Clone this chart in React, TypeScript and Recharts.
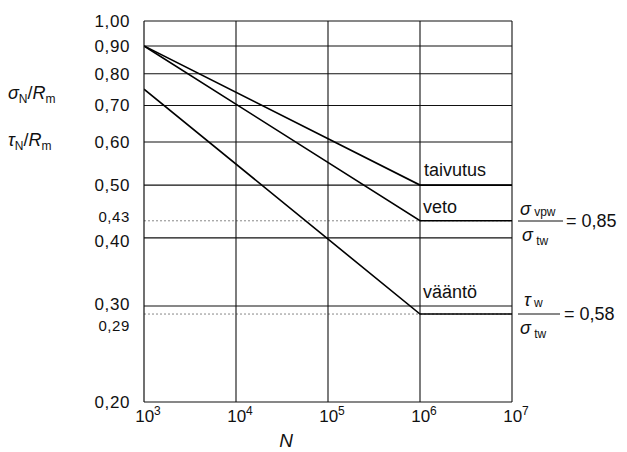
import React from 'react';
import { LineChart, Line, XAxis, YAxis, ReferenceLine } from 'recharts';

// Wöhler-käyrät: N (log) vs. suhteellinen lujuus
const N_VALUES = [1e3, 1e6, 1e7];
const TAIVUTUS = [0.9, 0.5, 0.5];
const VETO = [0.9, 0.43, 0.43];
const VAANTO = [0.75, 0.29, 0.29];

const X_TICKS = [1e3, 1e4, 1e5, 1e6, 1e7];
const Y_TICKS = [0.2, 0.29, 0.3, 0.4, 0.43, 0.5, 0.6, 0.7, 0.8, 0.9, 1.0];
const MAJOR_H = [0.3, 0.4, 0.5, 0.6, 0.7, 0.8, 0.9, 1.0];
const MINOR_H = [0.29, 0.43];
const V_LINES = [1e4, 1e5, 1e6, 1e7];

const chartData = N_VALUES.map((n, i) => ({
  n,
  taivutus: TAIVUTUS[i],
  veto: VETO[i],
  vaanto: VAANTO[i],
}));

const FONT = '"Liberation Sans", Arial, Helvetica, sans-serif';

const YTick = (props: any) => {
  const { x, y, payload } = props;
  const v = payload.value as number;
  const small = v === 0.29 || v === 0.43;
  let dy = 6;
  if (v === 0.29) dy = 17;
  if (v === 0.3) dy = 4;
  if (v === 0.43) dy = 1;
  if (v === 0.4) dy = 9;
  return (
    <text x={x} y={y + dy} textAnchor="end" fontSize={small ? 15 : 17} fill="#111" fontFamily={FONT} letterSpacing={0.6}>
      {v.toFixed(2).replace('.', ',')}
    </text>
  );
};

const XTick = (props: any) => {
  const { x, y, payload } = props;
  const exp = Math.round(Math.log10(payload.value));
  return (
    <text x={x + 4} y={y + 14} textAnchor="middle" fontSize={17} fill="#111" fontFamily={FONT}>
      10
      <tspan fontSize={12} dy={-7}>{exp}</tspan>
    </text>
  );
};

const App: React.FC = () => {
  return (
    <div style={{ position: 'absolute', left: 0, top: 0, width: 627, height: 452, background: '#fff' }}>
      <LineChart width={627} height={452} data={chartData} margin={{ top: 21, right: 115, left: 0, bottom: 0 }}>
        <XAxis
          dataKey="n"
          type="number"
          scale="log"
          domain={[1e3, 1e7]}
          ticks={X_TICKS}
          tick={<XTick />}
          tickSize={0}
          tickMargin={6}
          height={50}
          axisLine={{ stroke: '#111', strokeWidth: 1.2 }}
          allowDataOverflow
        />
        <YAxis
          type="number"
          scale="log"
          domain={[0.2, 1]}
          ticks={Y_TICKS}
          tick={<YTick />}
          tickSize={0}
          tickMargin={14}
          width={144}
          interval={0}
          axisLine={{ stroke: '#111', strokeWidth: 1.2 }}
          allowDataOverflow
        />
        {MAJOR_H.map((v) => (
          <ReferenceLine key={`h-${v}`} y={v} stroke="#111" strokeWidth={1.1} />
        ))}
        {MINOR_H.map((v) => (
          <ReferenceLine key={`m-${v}`} y={v} stroke="#888" strokeWidth={1} strokeDasharray="2 2" />
        ))}
        {V_LINES.map((v) => (
          <ReferenceLine key={`v-${v}`} x={v} stroke="#111" strokeWidth={1.1} />
        ))}
        <Line dataKey="taivutus" stroke="#000" strokeWidth={1.6} dot={false} isAnimationActive={false} />
        <Line dataKey="veto" stroke="#000" strokeWidth={1.6} dot={false} isAnimationActive={false} />
        <Line dataKey="vaanto" stroke="#000" strokeWidth={1.6} dot={false} isAnimationActive={false} />
      </LineChart>

      {/* tekstit päälle */}
      <svg width={627} height={452} style={{ position: 'absolute', left: 0, top: 0, pointerEvents: 'none' }} fontFamily={FONT} fill="#111">
        <text x={8} y={99} fontSize={18}>
          <tspan fontStyle="italic">σ</tspan>
          <tspan fontSize={12} dy={4}>N</tspan>
          <tspan dy={-4}>/</tspan>
          <tspan fontStyle="italic">R</tspan>
          <tspan fontSize={12} dy={4}>m</tspan>
        </text>
        <text x={8} y={146} fontSize={18}>
          <tspan fontStyle="italic">τ</tspan>
          <tspan fontSize={12} dy={4}>N</tspan>
          <tspan dy={-4}>/</tspan>
          <tspan fontStyle="italic">R</tspan>
          <tspan fontSize={12} dy={4}>m</tspan>
        </text>

        <text x={424} y={176} fontSize={18}>taivutus</text>
        <text x={423} y={213} fontSize={18}>veto</text>
        <text x={423} y={298} fontSize={18}>vääntö</text>

        <text x={520} y={215} fontSize={18}>
          <tspan fontStyle="italic">σ</tspan>
          <tspan fontSize={12} dy={1}> vpw</tspan>
        </text>
        <line x1={518} x2={563} y1={221} y2={221} stroke="#111" strokeWidth={1} />
        <text x={522} y={241} fontSize={18}>
          <tspan fontStyle="italic">σ</tspan>
          <tspan fontSize={12} dy={4}> tw</tspan>
        </text>
        <text x={566} y={227} fontSize={18}>= 0,85</text>

        <text x={524} y={306} fontSize={18}>
          <tspan fontStyle="italic">τ</tspan>
          <tspan fontSize={12} dy={1}> w</tspan>
        </text>
        <line x1={518} x2={560} y1={314} y2={314} stroke="#111" strokeWidth={1} />
        <text x={520} y={334} fontSize={18}>
          <tspan fontStyle="italic">σ</tspan>
          <tspan fontSize={12} dy={4}> tw</tspan>
        </text>
        <text x={564} y={320} fontSize={18}>= 0,58</text>

        <text x={286} y={447} fontSize={19} fontStyle="italic" textAnchor="middle">N</text>
      </svg>
    </div>
  );
};

export default App;
